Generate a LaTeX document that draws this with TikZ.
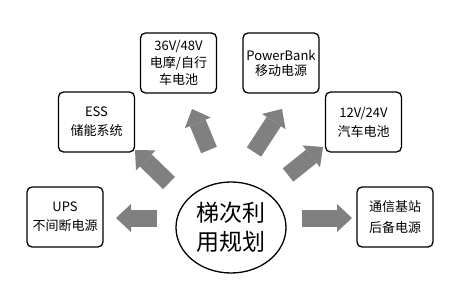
\documentclass[tikz,border=0pt]{standalone}
\usepackage{fontspec}
\setmainfont{Noto Sans CJK SC}
\usetikzlibrary{arrows.meta, shapes.geometric}
\definecolor{arrowgray}{RGB}{128,128,128}
\begin{document}
\begin{tikzpicture}[x=1pt, y=-1pt]
    % Styles
    \tikzstyle{usebox} = [rectangle, draw, line width=1.3pt, rounded corners=5pt, minimum width=76pt, minimum height=60pt, inner sep=0pt, align=center, font=\fontsize{13}{19}\selectfont]
    \tikzstyle{hub} = [ellipse, draw, line width=1.3pt, minimum width=110pt, minimum height=91pt, inner sep=0pt, align=center, font=\fontsize{23}{29}\selectfont]
    \tikzstyle{fatarrow} = [line width=17pt, draw=arrowgray, -{Triangle[width=28pt, length=15pt, line width=0pt]}]

    \useasboundingbox (0,0) rectangle (473,291);

    % Nodes
    \node [hub] (hub) at (231,227.5) {梯次利\\用规划};
    \node [usebox] (ups) at (65,217) {UPS\\不间断电源};
    \node [usebox] (ess) at (96.5,122) {ESS\\储能系统};
    \node [usebox, font=\fontsize{13}{17}\selectfont] (ebike) at (178.5,63) {36V/48V\\电摩/自行\\车电池};
    \node [usebox, font=\fontsize{13}{15}\selectfont] (pbank) at (281,63) {PowerBank\\移动电源};
    \node [usebox] (car) at (363.5,122) {12V/24V\\汽车电池};
    \node [usebox, font=\fontsize{13}{21}\selectfont] (base) at (395,217) {通信基站\\后备电源};

    % Arrow ends
    \coordinate (upsA) at (157,218);   \coordinate (upsB) at (116,218);
    \coordinate (baseA) at (302,218);  \coordinate (baseB) at (352,218);
    \coordinate (essA) at (169,183);   \coordinate (essB) at (135,150);
    \coordinate (ebikeA) at (209,150); \coordinate (ebikeB) at (192,109);
    \coordinate (pbankA) at (254,152); \coordinate (pbankB) at (282,109);
    \coordinate (carA) at (288,175);   \coordinate (carB) at (323,147);

    % Arrows
    \draw [fatarrow] (upsA) -- (upsB);
    \draw [fatarrow] (baseA) -- (baseB);
    \draw [fatarrow] (essA) -- (essB);
    \draw [fatarrow] (ebikeA) -- (ebikeB);
    \draw [fatarrow] (pbankA) -- (pbankB);
    \draw [fatarrow] (carA) -- (carB);
\end{tikzpicture}
\end{document}
